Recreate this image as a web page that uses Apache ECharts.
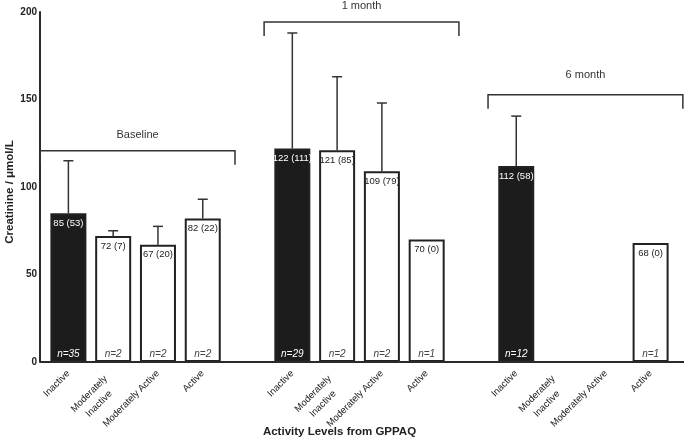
<!DOCTYPE html>
<html><head><meta charset="utf-8">
<script src="https://cdn.jsdelivr.net/npm/echarts@6/dist/echarts.min.js"></script>
<style>html,body{margin:0;padding:0;background:#fff}#c{width:685px;height:447px}</style>
</head><body><div id="c"></div>
<script>
// ---------- DATA ----------
const activityLevels = ['Inactive', 'Moderately\nInactive', 'Moderately Active', 'Active'];
const timepoints = ['Baseline', '1 month', '6 month'];
const baselineMedian = [85, 72, 67, 82];
const month1Median = [122, 121, 109, 70];
const month6Median = [112, null, null, 68];
const baselineIqr = [53, 7, 20, 22];
const month1Iqr = [111, 85, 79, 0];
const month6Iqr = [58, null, null, 0];
const baselineErrTop = [115, 75, 77.5, 93];
const month1ErrTop = [188, 163, 148, null];
const month6ErrTop = [140.5, null, null, null];
const baselineN = [35, 2, 2, 2];
const month1N = [29, 2, 2, 1];
const month6N = [12, null, null, 1];
const yTicks = [0, 50, 100, 150, 200];

// ---------- BUILD ----------
const FONT = '"Liberation Sans", Arial, Helvetica, sans-serif';
const groupMedians = [baselineMedian, month1Median, month6Median];
const groupIqr = [baselineIqr, month1Iqr, month6Iqr];
const groupErr = [baselineErrTop, month1ErrTop, month6ErrTop];
const groupN = [baselineN, month1N, month6N];

const categories = [], values = [], iqrs = [], errs = [], ns = [], isInactive = [];
const groupRanges = [];
groupMedians.forEach((g, gi) => {
  const start = categories.length;
  activityLevels.forEach((lvl, li) => {
    categories.push(lvl);
    values.push(g[li]);
    iqrs.push(groupIqr[gi][li]);
    errs.push(groupErr[gi][li]);
    ns.push(groupN[gi][li]);
    isInactive.push(li === 0);
  });
  groupRanges.push([start, categories.length - 1]);
  if (gi < groupMedians.length - 1) {
    categories.push(''); values.push(null); iqrs.push(null); errs.push(null); ns.push(null); isInactive.push(false);
  }
});

// annotation layout (data units)
const bracketLevel = [120.7, 194.3, 152.7];
const bracketLabelLevel = [130, 203.6, 164];

const barData = values.map((v, i) => v == null ? null : {
  value: v,
  itemStyle: { color: isInactive[i] ? '#1c1c1c' : '#ffffff', borderColor: '#222', borderWidth: 2 },
  label: { color: isInactive[i] ? '#ffffff' : '#222' }
});

const xCategoryData = categories.map(c => c.indexOf('\n') >= 0
  ? { value: c, textStyle: { padding: [11, 9, 0, 0] } }
  : c);

const errData = errs.map((e, i) => e == null ? null : [i, values[i], e]).filter(d => d);
const nData = ns.map((n, i) => n == null ? null : [i, 0, n, isInactive[i] ? 1 : 0]).filter(d => d);
const bracketData = groupRanges.map((r, gi) => [r[0], r[1], bracketLevel[gi], bracketLabelLevel[gi], gi]);

const chart = echarts.init(document.getElementById('c'), null, { renderer: 'canvas' });
chart.setOption({
  animation: false,
  backgroundColor: '#fff',
  grid: { left: 46, right: 12, top: 12, bottom: 85, containLabel: false, outerBoundsMode: 'none' },
  xAxis: {
    type: 'category',
    data: xCategoryData,
    axisLine: { show: false },
    axisTick: { show: false },
    axisLabel: {
      interval: 0, rotate: 45, margin: 10, color: '#1a1a1a',
      fontFamily: FONT, fontSize: 9.5,
      formatter: v => v.indexOf('\n') >= 0 ? v.split('\n').map(s => '{c|' + s + '}').join('\n') : v,
      rich: { c: { align: 'center', fontFamily: FONT, fontSize: 9.5, color: '#1a1a1a', lineHeight: 14 } }
    },
    name: 'Activity Levels from GPPAQ',
    nameLocation: 'middle', nameGap: 64, nameMoveOverlap: false,
    nameTextStyle: { fontFamily: FONT, fontSize: 11.5, fontWeight: 'bold', color: '#222', padding: [0, 40, 0, 0] }
  },
  yAxis: {
    type: 'value', min: 0, max: 200, interval: 50, offset: 6,
    axisLine: { show: true, lineStyle: { color: '#2a2a2a', width: 2 } },
    axisTick: { show: false },
    splitLine: { show: false },
    axisLabel: { margin: 3, color: '#222', fontFamily: FONT, fontSize: 10, fontWeight: 'bold',
      customValues: yTicks },
    name: 'Creatinine / μmol/L',
    nameLocation: 'middle', nameGap: 24, nameMoveOverlap: false,
    nameTextStyle: { fontFamily: FONT, fontSize: 11.5, fontWeight: 'bold', color: '#222', padding: [0, 10, 0, 0] }
  },
  series: [
    {
      type: 'custom', z: 1,
      renderItem: (params, api) => {
        const p0 = api.coord([api.value(0), api.value(1)]);
        const p1 = api.coord([api.value(0), api.value(2)]);
        const st = { stroke: '#333', lineWidth: 1.5 };
        return { type: 'group', children: [
          { type: 'line', shape: { x1: p0[0], y1: p0[1], x2: p1[0], y2: p1[1] }, style: st },
          { type: 'line', shape: { x1: p1[0] - 5, y1: p1[1], x2: p1[0] + 5, y2: p1[1] }, style: st }
        ]};
      },
      data: errData
    },
    {
      type: 'bar', z: 2,
      barWidth: 36,
      data: barData,
      label: {
        show: true, position: 'insideTop', distance: 5, overflow: 'none',
        fontFamily: FONT, fontSize: 9.5,
        formatter: p => p.value + ' (' + iqrs[p.dataIndex] + ')'
      }
    },
    {
      type: 'custom', z: 3,
      renderItem: (params, api) => {
        const p = api.coord([api.value(0), api.value(1)]);
        return { type: 'text', x: p[0], y: p[1] - 8, style: {
          text: 'n=' + api.value(2),
          fontFamily: FONT, fontSize: 10, fontStyle: 'italic',
          fill: api.value(3) ? '#fff' : '#444', align: 'center', verticalAlign: 'middle' } };
      },
      data: nData
    },
    {
      type: 'custom', z: 3,
      renderItem: (params, api) => {
        const bw = api.size([1, 0])[0];
        const a = api.coord([api.value(0), api.value(2)]);
        const b = api.coord([api.value(1), api.value(2)]);
        const lab = api.coord([(api.value(0) + api.value(1)) / 2, api.value(3)]);
        const x1 = a[0] - 0.63 * bw, x2 = b[0] + 0.72 * bw, y = a[1];
        const st = { stroke: '#333', lineWidth: 1.5, fill: null };
        return { type: 'group', children: [
          { type: 'polyline', shape: { points: [[x1, y + 14], [x1, y], [x2, y], [x2, y + 14]] }, style: st },
          { type: 'text', x: (x1 + x2) / 2, y: lab[1], style: { text: timepoints[api.value(4)], fontFamily: FONT, fontSize: 11, fill: '#333', align: 'center', verticalAlign: 'middle' } }
        ]};
      },
      data: bracketData
    }
  ]
});
// x axis baseline spanning from y-axis to right edge
const origin = chart.convertToPixel({ xAxisIndex: 0, yAxisIndex: 0 }, [0, 0]);
chart.setOption({ graphic: [{ type: 'line', z: 10, shape: { x1: 40, y1: origin[1], x2: 684, y2: origin[1] }, style: { stroke: '#2a2a2a', lineWidth: 2 } }] });
</script></body></html>
